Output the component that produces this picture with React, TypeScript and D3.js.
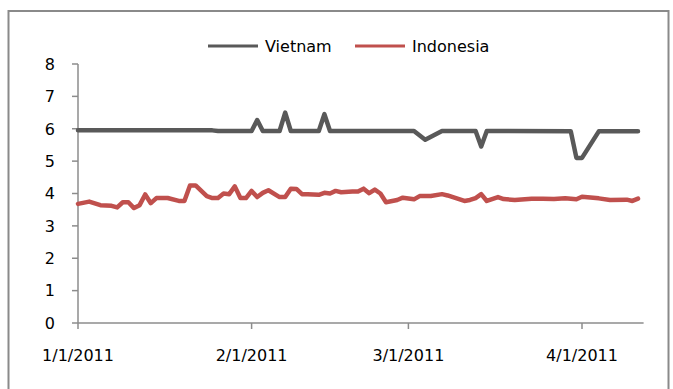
import React from "react";
import * as d3 from "d3";

// Series dates and values
const vietnamDates = [
  "2011-01-01", "2011-01-25", "2011-01-26", "2011-02-01", "2011-02-02", "2011-02-03",
  "2011-02-06", "2011-02-07", "2011-02-08", "2011-02-13", "2011-02-14", "2011-02-15",
  "2011-03-02", "2011-03-04", "2011-03-07", "2011-03-13", "2011-03-14", "2011-03-15",
  "2011-03-30", "2011-03-31", "2011-04-01", "2011-04-04", "2011-04-11",
];
const vietnamValues = [
  5.95, 5.95, 5.93, 5.93, 6.27, 5.93,
  5.93, 6.5, 5.93, 5.93, 6.45, 5.93,
  5.93, 5.66, 5.93, 5.93, 5.45, 5.93,
  5.92, 5.1, 5.1, 5.92, 5.92,
];

const indonesiaDates = [
  "2011-01-01", "2011-01-03", "2011-01-05", "2011-01-07", "2011-01-08", "2011-01-09",
  "2011-01-10", "2011-01-11", "2011-01-12", "2011-01-13", "2011-01-14", "2011-01-15",
  "2011-01-17", "2011-01-19", "2011-01-20", "2011-01-21", "2011-01-22", "2011-01-24",
  "2011-01-25", "2011-01-26", "2011-01-27", "2011-01-28", "2011-01-29", "2011-01-30",
  "2011-01-31", "2011-02-01", "2011-02-02", "2011-02-03", "2011-02-04", "2011-02-06",
  "2011-02-07", "2011-02-08", "2011-02-09", "2011-02-10", "2011-02-11", "2011-02-13",
  "2011-02-14", "2011-02-15", "2011-02-16", "2011-02-17", "2011-02-19", "2011-02-20",
  "2011-02-21", "2011-02-22", "2011-02-23", "2011-02-24", "2011-02-25", "2011-02-27",
  "2011-02-28", "2011-03-02", "2011-03-03", "2011-03-05", "2011-03-07", "2011-03-08",
  "2011-03-11", "2011-03-12", "2011-03-13", "2011-03-14", "2011-03-15", "2011-03-17",
  "2011-03-18", "2011-03-20", "2011-03-23", "2011-03-25", "2011-03-27", "2011-03-29",
  "2011-03-31", "2011-04-01", "2011-04-04", "2011-04-06", "2011-04-09", "2011-04-10",
  "2011-04-11",
];
const indonesiaValues = [
  3.68, 3.75, 3.64, 3.62, 3.57, 3.73,
  3.73, 3.55, 3.64, 3.97, 3.7, 3.86,
  3.86, 3.77, 3.77, 4.25, 4.25, 3.92,
  3.86, 3.86, 4.0, 3.98, 4.22, 3.86,
  3.86, 4.08, 3.89, 4.02, 4.1, 3.89,
  3.89, 4.15, 4.14, 3.98, 3.98, 3.96,
  4.02, 4.0, 4.08, 4.04, 4.06, 4.06,
  4.15, 4.01, 4.12, 4.0, 3.73, 3.8,
  3.87, 3.82, 3.92, 3.92, 3.98, 3.94,
  3.77, 3.8, 3.86, 3.98, 3.77, 3.89,
  3.83, 3.8, 3.84, 3.84, 3.83, 3.85,
  3.82, 3.9, 3.85, 3.8, 3.81, 3.77,
  3.84,
];

const yTicks = [0, 1, 2, 3, 4, 5, 6, 7, 8];
const xTickDates = ["2011-01-01", "2011-02-01", "2011-03-01", "2011-04-01"];
const xTickLabels = ["1/1/2011", "2/1/2011", "3/1/2011", "4/1/2011"];
const seriesNames = ["Vietnam", "Indonesia"];
const seriesColors = ["#595959", "#c0504d"];

const W = 673;
const H = 389;
const FONT = "'DejaVu Sans', Verdana, sans-serif";

const parse = d3.utcParse("%Y-%m-%d");

export default function App() {
  const x = d3
    .scaleUtc()
    .domain([parse("2011-01-01")!, parse("2011-04-12")!])
    .range([78, 643.6]);
  const y = d3.scaleLinear().domain([0, 8]).range([323, 64]);

  const line = d3
    .line<[Date, number]>()
    .x((d) => x(d[0]))
    .y((d) => y(d[1]));

  const series = [
    vietnamDates.map((s, i) => [parse(s)!, vietnamValues[i]] as [Date, number]),
    indonesiaDates.map((s, i) => [parse(s)!, indonesiaValues[i]] as [Date, number]),
  ];

  const axisColor = "#8c8c8c";
  const x0 = x.range()[0];
  const x1 = x.range()[1];

  return (
    <svg
      width={W}
      height={H}
      style={{ position: "fixed", left: 0, top: 0, background: "#fff" }}
      fontFamily={FONT}
    >
      {/* chart frame */}
      <rect x={8.5} y={11} width={660} height={400} fill="#fff" stroke="#8a8a8a" strokeWidth={2} />

      {/* y axis */}
      <line x1={x0} x2={x0} y1={y(8)} y2={y(0)} stroke={axisColor} strokeWidth={1.5} />
      {yTicks.map((t) => (
        <g key={t}>
          <line x1={x0 - 6} x2={x0} y1={y(t)} y2={y(t)} stroke={axisColor} strokeWidth={1.5} />
          <text x={55} y={y(t)} dy="0.36em" textAnchor="end" fontSize={16} fill="#000">
            {t}
          </text>
        </g>
      ))}

      {/* x axis */}
      <line x1={x0} x2={x1} y1={y(0)} y2={y(0)} stroke={axisColor} strokeWidth={1.5} />
      {xTickDates.map((s, i) => {
        const px = x(parse(s)!);
        return (
          <g key={s}>
            <line x1={px} x2={px} y1={y(0)} y2={y(0) + 6} stroke={axisColor} strokeWidth={1.5} />
            <text x={px} y={361} textAnchor="middle" fontSize={16} fill="#000">
              {xTickLabels[i]}
            </text>
          </g>
        );
      })}

      {/* series lines */}
      {series.map((pts, i) => (
        <path
          key={seriesNames[i]}
          d={line(pts) ?? ""}
          fill="none"
          stroke={seriesColors[i]}
          strokeWidth={4.5}
          strokeLinejoin="round"
          strokeLinecap="round"
        />
      ))}

      {/* legend */}
      {seriesNames.map((name, i) => {
        const lx = i === 0 ? 208 : 355;
        return (
          <g key={name}>
            <line x1={lx} x2={lx + 50} y1={46} y2={46} stroke={seriesColors[i]} strokeWidth={3} />
            <text x={lx + 57} y={52} fontSize={16} fill="#000">
              {name}
            </text>
          </g>
        );
      })}
    </svg>
  );
}
